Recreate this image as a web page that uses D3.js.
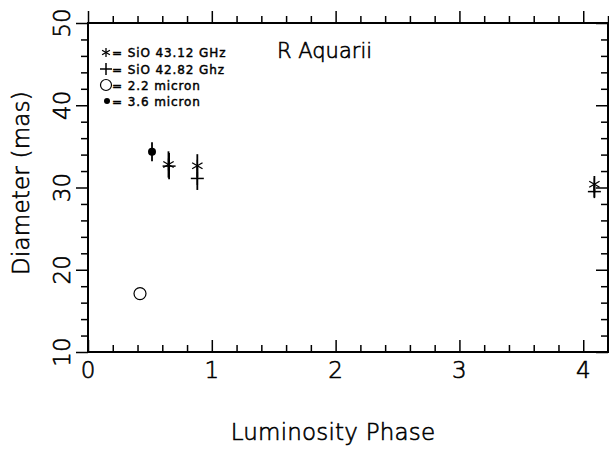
<!DOCTYPE html>
<html>
<head>
<meta charset="utf-8">
<script src="https://cdn.jsdelivr.net/npm/d3@7"></script>
<style>
  html, body { margin: 0; padding: 0; background: #fff; }
  svg { display: block; }
  .lab { font-family: "DejaVu Sans", sans-serif; font-weight: 200; fill: #000; stroke: #000; stroke-width: 0.6; }
  .leg { font-family: "DejaVu Sans", sans-serif; font-weight: normal; fill: #000; stroke: #000; stroke-width: 0.45; }
</style>
</head>
<body>
<svg id="chart" width="609" height="449"></svg>
<script>
// Angular diameter measurements of R Aquarii against luminosity phase
const title = "R Aquarii";
const xLabel = "Luminosity Phase";
const yLabel = "Diameter (mas)";
const xTicks = [0, 1, 2, 3, 4];
const yTicks = [10, 20, 30, 40, 50];

// SiO maser shells, 43.12 GHz (asterisks)
const sio43Phase = [0.65, 0.883, 4.09];
const sio43Diam  = [32.8, 32.65, 30.4];
const sio43Err   = [1.6, 1.4, 1.0];

// SiO maser shells, 42.82 GHz (plus signs)
const sio42Phase = [0.655, 0.883, 4.09];
const sio42Diam  = [32.6, 31.1, 29.5];
const sio42Err   = [1.6, 1.4, 0.7];

// Infrared continuum diameters
const ir22Phase = [0.42];
const ir22Diam  = [17.1];
const ir36Phase = [0.517];
const ir36Diam  = [34.35];
const ir36Err   = [1.15];

const legendLabels = ["= SiO 43.12 GHz", "= SiO 42.82 Ghz", "= 2.2 micron", "= 3.6 micron"];

const svg = d3.select("#chart");
const m = { left: 88, top: 23, right: 608, bottom: 352 };
const x = d3.scaleLinear().domain([0, 4.2]).range([m.left, m.right]);
const y = d3.scaleLinear().domain([10, 50]).range([m.bottom, m.top]);

const ink = "#000";
const g = svg.append("g");

// inward-pointing ticks on all four sides
function ticks(axisGen, transform, values, len) {
  const a = g.append("g").attr("transform", transform)
    .call(axisGen.tickValues(values).tickSize(-len).tickFormat(""));
  a.select(".domain").remove();
  a.selectAll("line").attr("stroke", ink).attr("stroke-width", 1.5);
}
const xMinor = d3.range(0, 4.21, 0.2).filter(v => Math.abs(v - Math.round(v)) > 1e-6);
const yMinor = d3.range(10, 50.01, 2).filter(v => v % 10 !== 0);
ticks(d3.axisBottom(x), `translate(0,${m.bottom})`, xTicks, 12);
ticks(d3.axisBottom(x), `translate(0,${m.bottom})`, xMinor, 7);
ticks(d3.axisTop(x), `translate(0,${m.top})`, xTicks, -12);
ticks(d3.axisTop(x), `translate(0,${m.top})`, xMinor, -7);
ticks(d3.axisLeft(y), `translate(${m.left},0)`, yTicks, -12);
ticks(d3.axisLeft(y), `translate(${m.left},0)`, yMinor, -7);
ticks(d3.axisRight(y), `translate(${m.right},0)`, yTicks, 12);
ticks(d3.axisRight(y), `translate(${m.right},0)`, yMinor, 7);

// frame
g.append("rect")
  .attr("x", m.left).attr("y", m.top)
  .attr("width", m.right - m.left).attr("height", m.bottom - m.top)
  .attr("fill", "none").attr("stroke", ink).attr("stroke-width", 2);

// tick labels
g.selectAll(".xt").data(xTicks).enter().append("text")
  .attr("class", "lab").attr("x", d => x(d)).attr("y", 378)
  .attr("text-anchor", "middle").attr("font-size", 23).text(d => d);
g.selectAll(".yt").data(yTicks).enter().append("text")
  .attr("class", "lab").attr("text-anchor", "middle").attr("font-size", 23)
  .attr("transform", d => `translate(70,${y(d)}) rotate(-90)`).text(d => d);

// axis titles and chart title
g.append("text").attr("class", "lab").attr("x", 333).attr("y", 440)
  .attr("text-anchor", "middle").attr("font-size", 23).attr("letter-spacing", 0.2)
  .text(xLabel);
g.append("text").attr("class", "lab").attr("text-anchor", "middle")
  .attr("font-size", 23).attr("letter-spacing", 0.2)
  .attr("transform", `translate(29,183) rotate(-90)`).text(yLabel);
g.append("text").attr("class", "lab").attr("x", 277).attr("y", 58)
  .attr("font-size", 21).text(title);

// markers
function asterisk(sel, cx, cy, r) {
  [90, 30, 150].forEach(a => {
    const t = a * Math.PI / 180;
    sel.append("line")
      .attr("x1", cx - r * Math.cos(t)).attr("y1", cy - r * Math.sin(t))
      .attr("x2", cx + r * Math.cos(t)).attr("y2", cy + r * Math.sin(t))
      .attr("stroke", ink).attr("stroke-width", 1.3);
  });
}
function plus(sel, cx, cy, r) {
  sel.append("line").attr("x1", cx - r).attr("x2", cx + r).attr("y1", cy).attr("y2", cy)
    .attr("stroke", ink).attr("stroke-width", 1.5);
  sel.append("line").attr("x1", cx).attr("x2", cx).attr("y1", cy - r).attr("y2", cy + r)
    .attr("stroke", ink).attr("stroke-width", 1.5);
}
function errBar(sel, px, py, e) {
  sel.append("line").attr("x1", x(px)).attr("x2", x(px))
    .attr("y1", y(py + e)).attr("y2", y(py - e))
    .attr("stroke", ink).attr("stroke-width", 1.8);
}

const marks = g.append("g");
sio43Phase.forEach((p, i) => {
  errBar(marks, p, sio43Diam[i], sio43Err[i]);
  asterisk(marks, x(p), y(sio43Diam[i]), 6);
});
sio42Phase.forEach((p, i) => {
  errBar(marks, p, sio42Diam[i], sio42Err[i]);
  plus(marks, x(p), y(sio42Diam[i]), 6.5);
});
ir36Phase.forEach((p, i) => {
  errBar(marks, p, ir36Diam[i], ir36Err[i]);
  marks.append("circle").attr("cx", x(p)).attr("cy", y(ir36Diam[i])).attr("r", 4).attr("fill", ink);
});
ir22Phase.forEach((p, i) => {
  marks.append("circle").attr("cx", x(p)).attr("cy", y(ir22Diam[i])).attr("r", 6)
    .attr("fill", "none").attr("stroke", ink).attr("stroke-width", 1.2);
});

// legend
const leg = g.append("g");
const rowY = [52.5, 69, 85, 101];
asterisk(leg, 106, rowY[0], 4.5);
plus(leg, 106, rowY[1], 6);
leg.append("circle").attr("cx", 106).attr("cy", rowY[2]).attr("r", 5.5)
  .attr("fill", "none").attr("stroke", ink).attr("stroke-width", 1.2);
leg.append("circle").attr("cx", 107).attr("cy", rowY[3]).attr("r", 3).attr("fill", ink);
legendLabels.forEach((t, i) => {
  leg.append("text").attr("class", "leg").attr("x", 112).attr("y", rowY[i] + 4.5)
    .attr("font-size", 12).attr("letter-spacing", 0.9).text(t);
});
</script>
</body>
</html>
